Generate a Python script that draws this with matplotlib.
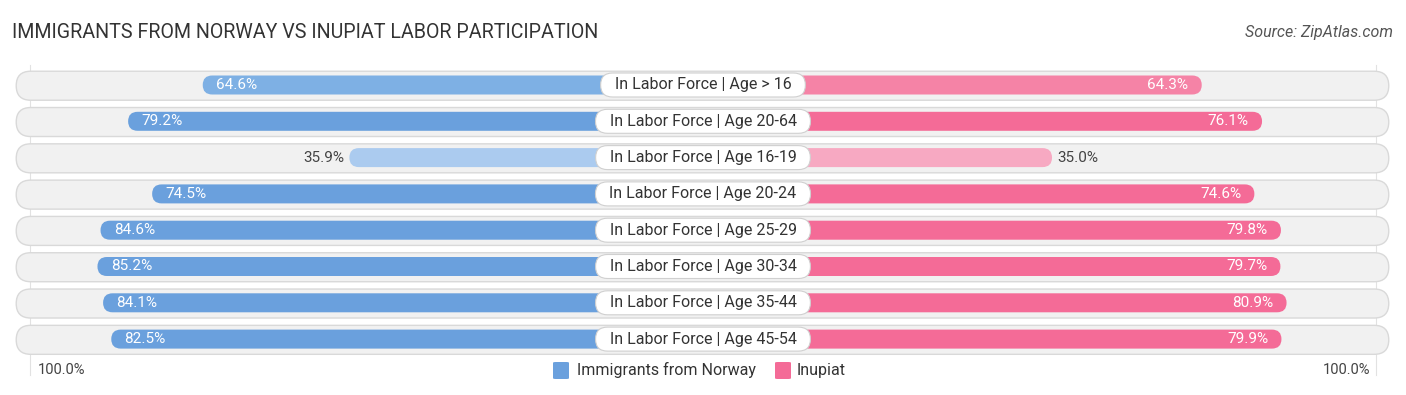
import matplotlib
matplotlib.use("Agg")
import matplotlib.pyplot as plt
from matplotlib.patches import FancyBboxPatch

categories = ["In Labor Force | Age > 16", "In Labor Force | Age 20-64", "In Labor Force | Age 16-19",
              "In Labor Force | Age 20-24", "In Labor Force | Age 25-29", "In Labor Force | Age 30-34",
              "In Labor Force | Age 35-44", "In Labor Force | Age 45-54"]
norway = [64.6, 79.2, 35.9, 74.5, 84.6, 85.2, 84.1, 82.5]
inupiat = [64.3, 76.1, 35.0, 74.6, 79.8, 79.7, 80.9, 79.9]
series_names = ["Immigrants from Norway", "Inupiat"]

blue_cols = ["#7eb0e4", "#6aa0dd", "#abcbef", "#6aa0dd", "#6aa0dd", "#6aa0dd", "#6aa0dd", "#6aa0dd"]
pink_cols = ["#f583a6", "#f46b97", "#f7a9c2", "#f46b97", "#f46b97", "#f46b97", "#f46b97", "#f46b97"]

plt.rcParams['font.family'] = ['Roboto', 'DejaVu Sans']

W, H = 14.06, 3.95
fig = plt.figure(figsize=(W, H), dpi=100)
ax = fig.add_axes([0, 0, 1, 1])
kx = 5.11          # px per % unit
ky = 36.3          # px per row
off = 33.3         # center gap in % units
ax.set_xlim(-703 / kx, 703 / kx)
ax.set_ylim((395 - 85) / ky, -85 / ky)
ax.axis('off')

ma = kx / ky
bar_h = 19 / ky
bg_h = 29 / ky
lab_h = 24 / ky

def pill(x0, x1, yc, h, fc, ec='none', lw=0, z=1):
    r = (h * ky / 2) / kx
    p = FancyBboxPatch((x0, yc - h / 2), x1 - x0, h,
                       boxstyle=f"round,pad=0,rounding_size={r}",
                       mutation_aspect=ma, fc=fc, ec=ec, lw=lw, zorder=z)
    ax.add_patch(p)

for xv in (-131.7, 131.7):
    ax.plot([xv, xv], [-0.55, 8.0], color="#e2e2e2", lw=0.8, zorder=0)

renderer = fig.canvas.get_renderer()
for i, (cat, vl, vr) in enumerate(zip(categories, norway, inupiat)):
    pill(-134.4, 134.2, i + 0.02, bg_h, "#f1f1f1", ec="#d9d9d9", lw=1.0, z=1)
    pill(-(off + vl), 0, i, bar_h, blue_cols[i], z=2)
    pill(0, off + vr, i, bar_h, pink_cols[i], z=2)
    if vl > 50:
        ax.text(-(off + vl) + 2.6, i, f"{vl:.1f}%", ha='left', va='center', fontsize=11, color='white', zorder=4)
    else:
        ax.text(-(off + vl) - 1.0, i, f"{vl:.1f}%", ha='right', va='center', fontsize=11, color='#444444', zorder=4)
    if vr > 50:
        ax.text(off + vr - 2.6, i, f"{vr:.1f}%", ha='right', va='center', fontsize=11, color='white', zorder=4)
    else:
        ax.text(off + vr + 1.0, i, f"{vr:.1f}%", ha='left', va='center', fontsize=11, color='#444444', zorder=4)
    t = ax.text(0, i, cat, ha='center', va='center', fontsize=11.5, color='#333333', zorder=6)
    wpx = t.get_window_extent(renderer).width
    half = (wpx / 2 + 14) / kx
    pill(-half, half, i, lab_h, 'white', ec='#d0d0d0', lw=0.8, z=5)

fig.text(12 / 1406, 1 - 33 / 395, "IMMIGRANTS FROM NORWAY VS INUPIAT LABOR PARTICIPATION",
         ha='left', va='center', fontsize=14.1, color='#333333')
fig.text(1393 / 1406, 1 - 33 / 395, "Source: ZipAtlas.com", ha='right', va='center',
         fontsize=11.5, color='#555555', style='italic')

yb = 1 - 370 / 395
fig.text(38 / 1406, yb, "100.0%", ha='left', va='center', fontsize=10.5, color='#444444')
fig.text(1370 / 1406, yb, "100.0%", ha='right', va='center', fontsize=10.5, color='#444444')

def swatch(xpx, col):
    p = FancyBboxPatch((xpx / 1406, 1 - 379 / 395), 16 / 1406, 17 / 395,
                       boxstyle="round,pad=0,rounding_size=0.002", transform=fig.transFigure,
                       fc=col, ec='none')
    fig.patches.append(p)
swatch(553, "#6aa0dd")
fig.text(577 / 1406, yb, series_names[0], ha='left', va='center', fontsize=11.5, color='#333333')
swatch(775, "#f46b97")
fig.text(797 / 1406, yb, series_names[1], ha='left', va='center', fontsize=11.5, color='#333333')

fig.savefig("out.png", dpi=100)
